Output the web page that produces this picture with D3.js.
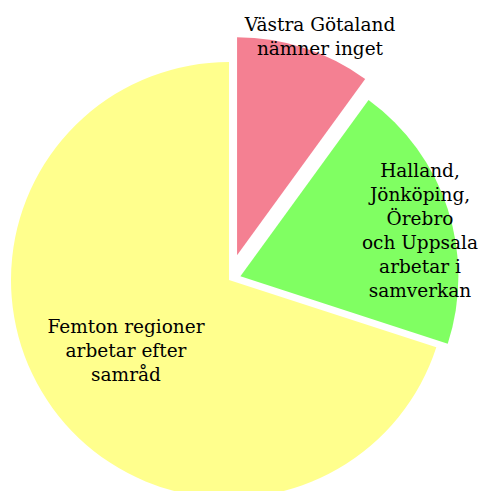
<!DOCTYPE html>
<html><head><meta charset="utf-8">
<script src="https://cdn.jsdelivr.net/npm/d3@7"></script>
<style>html,body{margin:0;padding:0;background:#fff;}svg{display:block;}</style>
</head><body>
<svg id="c" width="480" height="491"></svg>
<script>
const categories = ["Västra Götaland nämner inget", "Halland, Jönköping, Örebro och Uppsala arbetar i samverkan", "Femton regioner arbetar efter samråd"];
const values = [10, 20, 70];
const labelLines = [
  ["Västra Götaland", "nämner inget"],
  ["Halland,", "Jönköping,", "Örebro", "och Uppsala", "arbetar i", "samverkan"],
  ["Femton regioner", "arbetar efter", "samråd"]
];
const colors = ["#f48092", "#80ff62", "#ffff8d"];

// layout
const cx = 229, cy = 280, R = 218;
const explode = [26, 12, 0];
const labelPos = [[320, 31], [420, 177], [126, 333]];
const lineH = 24;

const svg = d3.select("#c");
const pie = d3.pie().sort(null).value(d => d)(values);
const arc = d3.arc().innerRadius(0).outerRadius(R);
const g = svg.append("g").attr("transform", `translate(${cx},${cy})`);
g.selectAll("path").data(pie).join("path")
  .attr("d", arc)
  .attr("fill", (d, i) => colors[i])
  .attr("transform", (d, i) => {
    const a = (d.startAngle + d.endAngle) / 2;
    return `translate(${explode[i] * Math.sin(a)},${-explode[i] * Math.cos(a)})`;
  });

labelLines.forEach((lines, i) => {
  const t = svg.append("text")
    .attr("font-family", "DejaVu Serif, serif")
    .attr("font-size", 18.5)
    .attr("fill", "#000")
    .attr("text-anchor", "middle");
  lines.forEach((l, j) => {
    t.append("tspan").attr("x", labelPos[i][0]).attr("y", labelPos[i][1] + j * lineH).text(l);
  });
});
</script>
</body></html>
